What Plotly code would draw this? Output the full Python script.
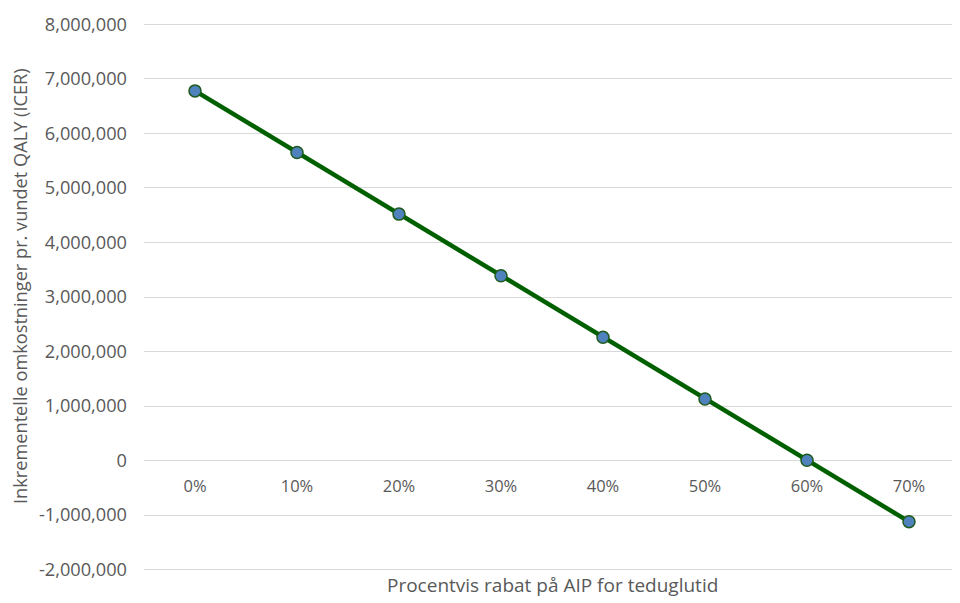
import plotly.graph_objects as go

categories = ["0%", "10%", "20%", "30%", "40%", "50%", "60%", "70%"]
icer_values = [6780000, 5650000, 4520000, 3390000, 2260000, 1130000, 5000, -1120000]
y_tick_values = [-2000000, -1000000, 0, 1000000, 2000000, 3000000, 4000000,
                 5000000, 6000000, 7000000, 8000000]
y_tick_labels = ["-2,000,000", "-1,000,000", "0", "1,000,000", "2,000,000", "3,000,000",
                 "4,000,000", "5,000,000", "6,000,000", "7,000,000", "8,000,000"]
x_title = "Procentvis rabat på AIP for teduglutid"
y_title = "Inkrementelle omkostninger pr. vundet QALY (ICER)"

FONT = "Open Sans"
GRAY = "#595959"
y_min, y_max = -2000000, 8000000
pad = 25000

fig = go.Figure()
fig.add_trace(go.Scatter(
    x=categories, y=icer_values, mode="lines+markers",
    line=dict(color="#006000", width=4.5),
    marker=dict(size=12, color="#4f81bd", line=dict(color="#1e5a1e", width=1.5)),
    showlegend=False,
))

fig.update_layout(
    width=960, height=603,
    margin=dict(l=136, r=8, t=15, b=40),
    paper_bgcolor="white", plot_bgcolor="white",
    font=dict(family=FONT, size=15, color=GRAY),
    xaxis=dict(
        type="category", anchor="free", automargin=False,
        position=(0 - (y_min - pad)) / ((y_max + pad) - (y_min - pad)),
        showgrid=False, zeroline=False, showline=False,
        ticks="", ticklabelstandoff=14,
        tickfont=dict(family=FONT, size=16.5, color=GRAY),
        range=[-0.5, 7.5],
    ),
    yaxis=dict(
        range=[y_min - pad, y_max + pad], automargin=False,
        tickvals=y_tick_values, ticktext=y_tick_labels,
        showgrid=True, gridcolor="#d9d9d9", gridwidth=1,
        zeroline=False, showline=False, ticks="",
        ticklabelstandoff=16,
        tickfont=dict(family=FONT, size=18.2, color=GRAY),
    ),
    annotations=[
        dict(text=x_title, xref="paper", yref="paper", x=0.5, y=-0.026,
             xanchor="center", yanchor="middle", showarrow=False,
             font=dict(family=FONT, size=19, color=GRAY)),
        dict(text=y_title, xref="paper", yref="paper", x=-0.152, y=0.52,
             xanchor="center", yanchor="middle", textangle=-90, showarrow=False,
             font=dict(family=FONT, size=18.2, color=GRAY)),
    ],
)

fig.write_html("out.html")
